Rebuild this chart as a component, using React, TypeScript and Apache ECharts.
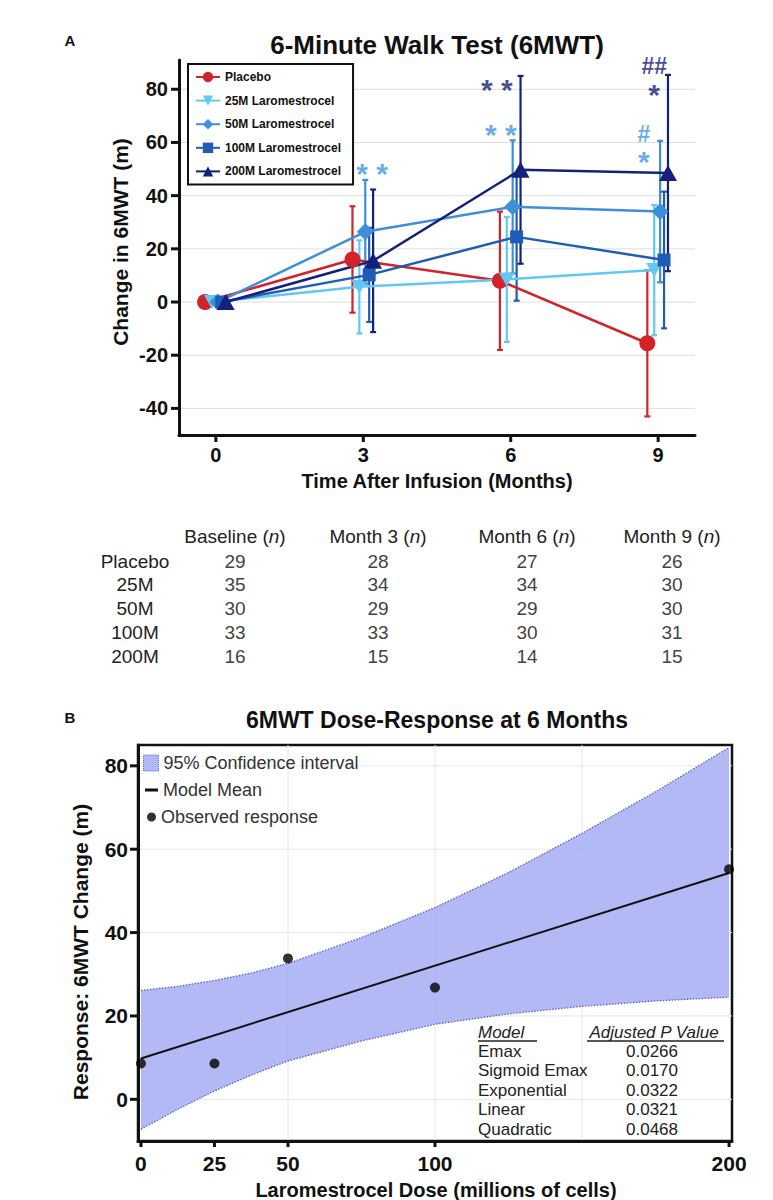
import React, { useEffect, useRef } from "react";
import * as echarts from "echarts";

const FONT = '"Liberation Sans", Arial, Helvetica, sans-serif';

// ---------- Panel A data ----------
const months = [0, 3, 6, 9];
const groupNames = [
  "Placebo",
  "25M Laromestrocel",
  "50M Laromestrocel",
  "100M Laromestrocel",
  "200M Laromestrocel",
];
const placeboMean = [0, 16, 8, -15.5];
const placeboErr = [0, 20, 26, 27.5];
const m25Mean = [0, 5.7, 8.5, 12];
const m25Err = [0, 17.5, 23.5, 24.5];
const m50Mean = [0, 26.4, 35.8, 34];
const m50Err = [0, 19.5, 25, 26.6];
const m100Mean = [0, 10.2, 24.5, 15.8];
const m100Err = [0, 17.7, 24, 25.7];
const m200Mean = [0, 15.5, 49.7, 48.5];
const m200Err = [0, 26.8, 35.3, 36.9];

const yTicksA = [-40, -20, 0, 20, 40, 60, 80];
const xTicksA = [0, 3, 6, 9];

// significance marks (data coordinates of glyph centres)
const annoText = ["* *", "* *", "* *", "#", "*", "##", "*"];
const annoX = [3.18, 5.72, 5.8, 8.71, 8.71, 8.92, 8.92];
const annoY = [51, 82.7, 65.8, 63.5, 55.3, 89.1, 80.5];
const annoGroup = [2, 4, 2, 2, 2, 4, 4];

// table under panel A
const tableHeaders = ["Baseline", "Month 3", "Month 6", "Month 9"];
const tableRowLabels = ["Placebo", "25M", "50M", "100M", "200M"];
const nBaseline = [29, 35, 30, 33, 16];
const nMonth3 = [28, 34, 29, 33, 15];
const nMonth6 = [27, 34, 29, 30, 14];
const nMonth9 = [26, 30, 30, 31, 15];

// ---------- Panel B data ----------
const doseGrid = [0, 12.5, 25, 37.5, 50, 75, 100, 125, 150, 175, 200];
const ciLower = [-7.2, -2.4, 2, 5.8, 9.2, 14, 18, 20.5, 22.3, 23.6, 24.5];
const ciUpper = [26.1, 27.1, 28.5, 30.3, 32.6, 38.8, 46, 54.4, 63.8, 73.8, 84.4];
const meanDose = [0, 200];
const meanResp = [9.8, 54.3];
const obsDose = [0, 25, 50, 100, 200];
const obsResp = [8.6, 8.6, 33.8, 26.8, 55.2];
const xTicksB = [0, 25, 50, 100, 200];
const yTicksB = [0, 20, 40, 60, 80];
const xGridB = [50, 100, 150];
const modelNames = ["Emax", "Sigmoid Emax", "Exponential", "Linear", "Quadratic"];
const pValues = ["0.0266", "0.0170", "0.0322", "0.0321", "0.0468"];

// ---------- styling / layout ----------
const groupColors = ["#d2232a", "#62c8f3", "#3d8fd9", "#1f5cb6", "#14217b"];
const groupSymbols = ["circle", "path://M0,0L12,0L6,10Z", "diamond", "rect", "triangle"];
const groupSymbolSizes: any[] = [16, [16, 14], [17, 17], 13, [18, 16]];
const dodge = [-0.22, -0.08, 0.04, 0.12, 0.2];

const AX = { min: -0.75, max: 9.75 };
const AY = { min: -50, max: 91 };
const BX = { min: -1, max: 201 };
const BY = { min: -10, max: 85 };

const near = (list: number[], v: number) => list.find((t) => Math.abs(t - v) < 1e-6);

export default function App() {
  const ref = useRef<HTMLDivElement>(null);

  useEffect(() => {
    if (!ref.current) return;
    const chart = echarts.init(ref.current, null, { renderer: "svg" });

    const means = [placeboMean, m25Mean, m50Mean, m100Mean, m200Mean];
    const errs = [placeboErr, m25Err, m50Err, m100Err, m200Err];

    const lineSeries = groupNames.map((name, g) => ({
      type: "line",
      name,
      xAxisIndex: 0,
      yAxisIndex: 0,
      z: 4,
      data: months.map((m, i) => [m + dodge[g], means[g][i]]),
      symbol: groupSymbols[g],
      symbolSize: groupSymbolSizes[g],
      itemStyle: { color: groupColors[g] },
      lineStyle: { color: groupColors[g], width: 2.5 },
      silent: true,
    }));

    const errSeries = groupNames.map((name, g) => ({
      type: "custom",
      name: name + " SD",
      xAxisIndex: 0,
      yAxisIndex: 0,
      z: 3,
      silent: true,
      data: months
        .map((m, i) => [m + dodge[g], means[g][i] - errs[g][i], means[g][i] + errs[g][i]])
        .filter((d) => d[2] > d[1]),
      encode: { x: 0, y: [1, 2] },
      renderItem: (_p: any, api: any) => {
        const x = api.value(0);
        const lo = api.coord([x, api.value(1)]);
        const hi = api.coord([x, api.value(2)]);
        const st = { stroke: groupColors[g], lineWidth: 2.2 };
        return {
          type: "group",
          children: [
            { type: "line", shape: { x1: lo[0], y1: lo[1], x2: hi[0], y2: hi[1] }, style: st },
            { type: "line", shape: { x1: lo[0] - 3, y1: lo[1], x2: lo[0] + 3, y2: lo[1] }, style: st },
            { type: "line", shape: { x1: hi[0] - 3, y1: hi[1], x2: hi[0] + 3, y2: hi[1] }, style: st },
          ],
        };
      },
    }));

    const hGrid = (xi: number, ticks: number[], xr: any, color: string, z = 0) => ({
      type: "custom",
      xAxisIndex: xi,
      yAxisIndex: xi,
      silent: true,
      z,
      data: ticks.map((v) => [xr.min, v]),
      renderItem: (_p: any, api: any) => {
        const a = api.coord([xr.min, api.value(1)]);
        const b = api.coord([xr.max, api.value(1)]);
        return { type: "line", shape: { x1: a[0], y1: a[1], x2: b[0], y2: b[1] }, style: { stroke: color, lineWidth: 1 } };
      },
    });
    const vGrid = (xi: number, ticks: number[], yr: any, color: string, z = 0) => ({
      type: "custom",
      xAxisIndex: xi,
      yAxisIndex: xi,
      silent: true,
      z,
      data: ticks.map((v) => [v, yr.min]),
      renderItem: (_p: any, api: any) => {
        const a = api.coord([api.value(0), yr.min]);
        const b = api.coord([api.value(0), yr.max]);
        return { type: "line", shape: { x1: a[0], y1: a[1], x2: b[0], y2: b[1] }, style: { stroke: color, lineWidth: 1 } };
      },
    });
    const yTickMarks = (xi: number, ticks: number[], xr: any, len: number) => ({
      type: "custom",
      xAxisIndex: xi,
      yAxisIndex: xi,
      silent: true,
      z: 6,
      data: ticks.map((v) => [xr.min, v]),
      renderItem: (_p: any, api: any) => {
        const a = api.coord([xr.min, api.value(1)]);
        return { type: "line", shape: { x1: a[0] - len, y1: a[1], x2: a[0], y2: a[1] }, style: { stroke: "#111", lineWidth: 3 } };
      },
    });
    const xTickMarks = (xi: number, ticks: number[], yr: any, len: number) => ({
      type: "custom",
      xAxisIndex: xi,
      yAxisIndex: xi,
      silent: true,
      z: 6,
      data: ticks.map((v) => [v, yr.min]),
      renderItem: (_p: any, api: any) => {
        const a = api.coord([api.value(0), yr.min]);
        return { type: "line", shape: { x1: a[0], y1: a[1], x2: a[0], y2: a[1] + len }, style: { stroke: "#111", lineWidth: 3 } };
      },
    });

    const annoSeries = {
      type: "scatter",
      xAxisIndex: 0,
      yAxisIndex: 0,
      silent: true,
      z: 7,
      symbolSize: 0,
      data: annoText.map((t, i) => ({
        value: [annoX[i], annoY[i]],
        label: {
          show: true,
          position: "inside",
          formatter: t,
          color: annoGroup[i] === 2 ? "#3f98e2" : groupColors[annoGroup[i]],
          fontSize: t.indexOf("#") >= 0 ? 23 : 30,
          fontWeight: "bold",
          fontFamily: FONT,
          offset: [0, t.indexOf("#") >= 0 ? 1 : 7],
        },
      })),
    };

    // panel B series
    const bandSeries = {
      type: "custom",
      name: "95% Confidence interval",
      xAxisIndex: 1,
      yAxisIndex: 1,
      silent: true,
      z: 1,
      data: [[0, 0]],
      itemStyle: { color: "#a5adf3" },
      renderItem: (_p: any, api: any) => {
        const up = doseGrid.map((d, i) => api.coord([d, ciUpper[i]]));
        const lo = doseGrid.map((d, i) => api.coord([d, ciLower[i]]));
        const poly = up.concat(lo.slice().reverse());
        const edge = { stroke: "#5a63c0", lineWidth: 1.3, lineDash: [1.5, 1.5], fill: null };
        return {
          type: "group",
          children: [
            { type: "polygon", shape: { points: poly }, style: { fill: "#a5adf3", opacity: 0.85 } },
            { type: "polyline", shape: { points: up }, style: edge },
            { type: "polyline", shape: { points: lo }, style: edge },
          ],
        };
      },
    };
    const meanSeries = {
      type: "line",
      name: "Model Mean",
      xAxisIndex: 1,
      yAxisIndex: 1,
      z: 4,
      silent: true,
      symbol: "none",
      data: meanDose.map((d, i) => [d, meanResp[i]]),
      lineStyle: { color: "#111", width: 2 },
      itemStyle: { color: "#111" },
    };
    const obsSeries = {
      type: "scatter",
      name: "Observed response",
      xAxisIndex: 1,
      yAxisIndex: 1,
      z: 5,
      silent: true,
      symbolSize: 10,
      data: obsDose.map((d, i) => [d, obsResp[i]]),
      itemStyle: { color: "#000" },
    };

    const tickLabel = { fontFamily: FONT, fontWeight: "bold", color: "#111" };
    const axisLine = { show: true, onZero: false, lineStyle: { color: "#111", width: 3 } };

    // graphic texts
    const txt = (text: string, x: number, y: number, size: number, opts: any = {}) => ({
      type: "text",
      x,
      y,
      rotation: opts.rotation || 0,
      silent: true,
      z: 10,
      style: {
        text,
        fontSize: size,
        fontFamily: FONT,
        fontWeight: opts.weight || "normal",
        fontStyle: opts.style || "normal",
        fill: opts.color || "#111",
        align: opts.align || "center",
        verticalAlign: "middle",
        rich: opts.rich,
      },
    });

    const colX = [235, 378, 527, 672];
    const headerY = 536;
    const rowY0 = 561;
    const rowStep = 23.8;
    const cols = [nBaseline, nMonth3, nMonth6, nMonth9];
    const tableGraphics: any[] = [];
    tableHeaders.forEach((h, c) => {
      tableGraphics.push(
        txt(h + " ({i|n})", colX[c], headerY, 19, {
          color: "#222",
          rich: { i: { fontStyle: "italic", fontSize: 19, fontFamily: FONT, fill: "#222" } },
        })
      );
    });
    tableRowLabels.forEach((r, ri) => {
      tableGraphics.push(txt(r, 135, rowY0 + ri * rowStep, 19, { color: "#222" }));
      cols.forEach((col, c) => {
        tableGraphics.push(txt(String(col[ri]), colX[c], rowY0 + ri * rowStep, 19, { color: "#444" }));
      });
    });

    const mtX = 478;
    const pvX = 654;
    const mtHeadY = 1032;
    const mtRow0 = 1051.5;
    const mtStep = 19.4;
    const modelGraphics: any[] = [
      txt("Model", mtX, mtHeadY, 17, { align: "left", style: "italic", color: "#222" }),
      txt("Adjusted P Value", pvX, mtHeadY, 17, { style: "italic", color: "#222" }),
      { type: "line", silent: true, z: 10, shape: { x1: mtX, y1: mtHeadY + 9, x2: mtX + 59, y2: mtHeadY + 9 }, style: { stroke: "#222", lineWidth: 1.5 } },
      { type: "line", silent: true, z: 10, shape: { x1: 587, y1: mtHeadY + 9, x2: 724, y2: mtHeadY + 9 }, style: { stroke: "#222", lineWidth: 1.5 } },
    ];
    modelNames.forEach((m, i) => {
      modelGraphics.push(txt(m, mtX, mtRow0 + i * mtStep, 17, { align: "left", color: "#222" }));
      modelGraphics.push(txt(pValues[i], pvX - 2, mtRow0 + i * mtStep, 17, { color: "#222" }));
    });

    const option: any = {
      animation: false,
      backgroundColor: "#fff",
      textStyle: { fontFamily: FONT },
      grid: [
        { left: 179, top: 60, width: 516, height: 375, outerBoundsMode: "none", show: false },
        {
          left: 138,
          top: 745,
          width: 594,
          height: 396,
          outerBoundsMode: "none",
          show: true,
          borderColor: "#111",
          borderWidth: 2.5,
          backgroundColor: "transparent",
        },
      ],
      xAxis: [
        {
          type: "value",
          gridIndex: 0,
          min: AX.min,
          max: AX.max,
          interval: 0.25,
          axisLine,
          axisTick: { show: false },
          splitLine: { show: false },
          axisLabel: {
            ...tickLabel,
            fontSize: 20,
            margin: 10,
            formatter: (v: number) => {
              const t = near(xTicksA, v);
              return t === undefined ? "" : String(t);
            },
          },
        },
        {
          type: "value",
          gridIndex: 1,
          min: BX.min,
          max: BX.max,
          interval: 1,
          axisLine,
          axisTick: { show: false },
          splitLine: { show: false },
          axisLabel: {
            ...tickLabel,
            fontSize: 21,
            margin: 12,
            formatter: (v: number) => {
              const t = near(xTicksB, v);
              return t === undefined ? "" : String(t);
            },
          },
        },
      ],
      yAxis: [
        {
          type: "value",
          gridIndex: 0,
          min: AY.min,
          max: AY.max,
          interval: 10,
          axisLine,
          axisTick: { show: false },
          splitLine: { show: false },
          axisLabel: {
            ...tickLabel,
            fontSize: 20,
            margin: 11,
            formatter: (v: number) => {
              const t = near(yTicksA, v);
              return t === undefined ? "" : String(t);
            },
          },
        },
        {
          type: "value",
          gridIndex: 1,
          min: BY.min,
          max: BY.max,
          interval: 5,
          axisLine,
          axisTick: { show: false },
          splitLine: { show: false },
          axisLabel: {
            ...tickLabel,
            fontSize: 21,
            margin: 10,
            formatter: (v: number) => {
              const t = near(yTicksB, v);
              return t === undefined ? "" : String(t);
            },
          },
        },
      ],
      legend: [
        {
          data: groupNames,
          orient: "vertical",
          left: 188,
          top: 64,
          itemGap: 11.6,
          itemWidth: 24,
          itemHeight: 13,
          padding: [7, 12, 7, 7],
          borderColor: "#111",
          borderWidth: 2,
          backgroundColor: "#fff",
          selectedMode: false,
          textStyle: { fontFamily: FONT, fontWeight: "bold", fontSize: 12, color: "#111" },
          z: 8,
        },
        {
          data: [
            {
              name: "95% Confidence interval",
              icon: "rect",
              itemStyle: { color: "#b2b8f5", borderColor: "#5a63c0", borderWidth: 1, borderType: "dotted" },
            },
          ],
          left: 143,
          top: 754,
          padding: 0,
          itemWidth: 15,
          itemHeight: 16,
          selectedMode: false,
          textStyle: { fontFamily: FONT, fontSize: 18, color: "#333" },
        },
        {
          data: [{ name: "Model Mean", icon: "rect", itemStyle: { color: "#111" } }],
          left: 145,
          top: 781,
          padding: 0,
          itemWidth: 13,
          itemHeight: 3,
          selectedMode: false,
          textStyle: { fontFamily: FONT, fontSize: 18, color: "#333" },
        },
        {
          data: [{ name: "Observed response", icon: "circle", itemStyle: { color: "#000" } }],
          left: 147,
          top: 808,
          padding: 0,
          itemWidth: 9,
          itemHeight: 9,
          selectedMode: false,
          textStyle: { fontFamily: FONT, fontSize: 18, color: "#333" },
        },
      ],
      graphic: [
        txt("A", 70, 40, 15, { weight: "bold" }),
        txt("6-Minute Walk Test (6MWT)", 437, 45, 26, { weight: "bold" }),
        txt("Change in 6MWT (m)", 120, 242, 21, { weight: "bold", rotation: Math.PI / 2 }),
        txt("Time After Infusion (Months)", 437, 481, 20, { weight: "bold" }),
        ...tableGraphics,
        txt("B", 70, 717, 15, { weight: "bold" }),
        txt("6MWT Dose-Response at 6 Months", 437, 720, 23, { weight: "bold" }),
        txt("Response: 6MWT Change (m)", 80, 952, 21, { weight: "bold", rotation: Math.PI / 2 }),
        txt("Laromestrocel Dose (millions of cells)", 436, 1190, 20, { weight: "bold" }),
        ...modelGraphics,
      ],
      series: [
        hGrid(0, yTicksA, AX, "#dedede"),
        yTickMarks(0, yTicksA, AX, 8),
        xTickMarks(0, xTicksA, AY, 7),
        ...errSeries,
        ...lineSeries,
        annoSeries,
        hGrid(1, yTicksB, BX, "#e6e6e6"),
        vGrid(1, xGridB, BY, "#e6e6e6"),
        yTickMarks(1, yTicksB, BX, 8),
        xTickMarks(1, xTicksB, BY, 6),
        bandSeries,
        meanSeries,
        obsSeries,
      ],
    };

    chart.setOption(option);
    return () => chart.dispose();
  }, []);

  return (
    <div
      ref={ref}
      style={{ position: "absolute", left: 0, top: 0, width: 773, height: 1200, background: "#fff" }}
    />
  );
}
